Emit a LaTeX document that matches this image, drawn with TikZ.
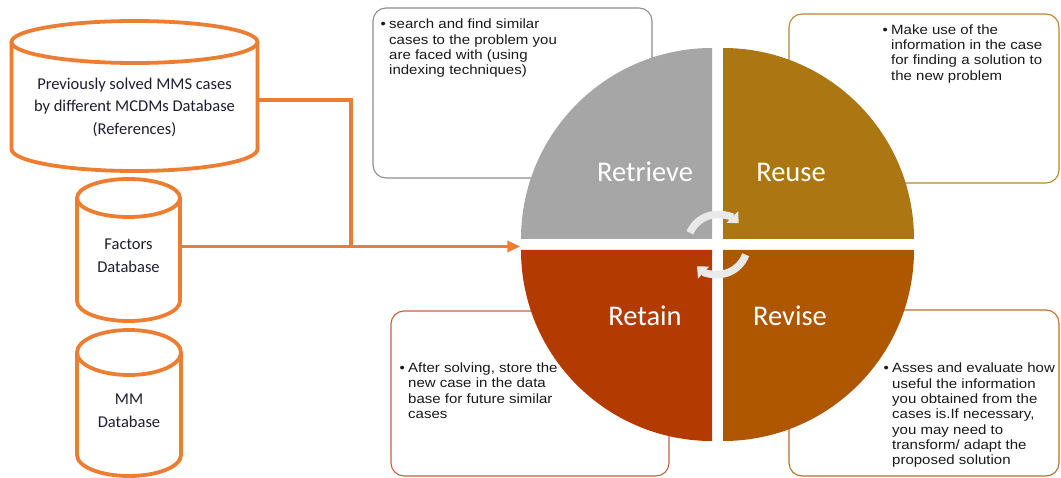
\documentclass[tikz,border=0pt]{standalone}
\usepackage{fontspec}
\setmainfont{Carlito}
\newfontfamily\boxfont[FakeStretch=1.12]{Liberation Sans}
\usetikzlibrary{arrows.meta}

\definecolor{dborange}{HTML}{ED7D31}
\definecolor{qgray}{HTML}{A6A6A6}
\definecolor{qgold}{HTML}{AC7712}
\definecolor{qrust}{HTML}{B33A00}
\definecolor{qamber}{HTML}{AE5600}
\definecolor{cycarrow}{HTML}{E9E9E9}
\definecolor{dbtext}{HTML}{1E1E32}
\definecolor{boxtext}{HTML}{1A1A1A}
\definecolor{bdgray}{HTML}{8E8E8E}
\definecolor{bdgold}{HTML}{B8872E}
\definecolor{bdrust}{HTML}{C8603C}
\definecolor{bdamber}{HTML}{B8732E}

\begin{document}
\begin{tikzpicture}[x=1pt,y=-1pt,
  dbline/.style={draw=dborange, line width=3.8pt, fill=white, line join=round},
  dblabel/.style={font=\fontsize{16.5}{22.5}\selectfont, text=dbtext, align=center, inner sep=0},
  link/.style={draw=dborange, line width=3.3pt},
  notebox/.style={line width=1.1pt, fill=white, rounded corners=13pt},
  notetext/.style={anchor=base west, inner sep=0, text=boxtext,
    font=\boxfont\fontsize{13.4}{15.3}\selectfont},
  qlabel/.style={anchor=base, inner sep=0, text=white, font=\fontsize{28.5}{30}\selectfont},
  cyclearrow/.style={draw=cycarrow, line width=7.5pt, -{Triangle[width=16pt,length=9pt]}}]

\useasboundingbox (0,0) rectangle (1061,478);
\fill[white] (0,0) rectangle (1061,478);

% ---- note boxes (behind the cycle) ----
\draw[notebox, draw=bdgray]  (373,8)   rectangle (652,178);
\draw[notebox, draw=bdgold]  (789,14)  rectangle (1059,183);
\draw[notebox, draw=bdrust]  (391,311) rectangle (669,476);
\draw[notebox, draw=bdamber] (789,310) rectangle (1059,476);

\node[notetext] (tRetrieve) at (380.5,28.8) {\begin{tabular}[t]{@{}p{8.5pt}@{}l@{}}
  • & search and find similar\\
    & cases to the problem you\\
    & are faced with (using\\
    & indexing techniques)\end{tabular}};
\node[notetext] (tReuse) at (882.5,34.3) {\begin{tabular}[t]{@{}p{8.5pt}@{}l@{}}
  • & Make use of the\\
    & information in the case\\
    & for finding a solution to\\
    & the new problem\end{tabular}};
\node[notetext] (tRetain) at (399.5,372.7) {\begin{tabular}[t]{@{}p{8.5pt}@{}l@{}}
  • & After solving, store the\\
    & new case in the data\\
    & base for future similar\\
    & cases\end{tabular}};
\node[notetext] (tRevise) at (883.5,373) {\begin{tabular}[t]{@{}p{8.5pt}@{}l@{}}
  • & Asses and evaluate how\\
    & useful the information\\
    & you obtained from the\\
    & cases is.If necessary,\\
    & you may need to\\
    & transform/ adapt the\\
    & proposed solution\end{tabular}};

% ---- the four-step cycle ----
\node[circle, minimum size=394pt, inner sep=0] (cycle) at (717.5,244.5) {};
\fill[qgray]  (712,239) -- ++(-191,0) arc[start angle=180, end angle=270, radius=191] -- cycle;
\fill[qgold]  (723,239) -- ++(0,-191) arc[start angle=270, end angle=360, radius=191] -- cycle;
\fill[qamber] (723,250) -- ++(191,0)  arc[start angle=0,   end angle=90,  radius=191] -- cycle;
\fill[qrust]  (712,250) -- ++(0,191)  arc[start angle=90,  end angle=180, radius=191] -- cycle;

\node[qlabel] (lRetrieve) at (645,181.5) {Retrieve};
\node[qlabel] (lReuse)    at (791,181.5) {Reuse};
\node[qlabel] (lRetain)   at (645,326)   {Retain};
\node[qlabel] (lRevise)   at (790,326)   {Revise};

\draw[cyclearrow] (cycle.center) ++(-157:30) arc[start angle=-157, end angle=-45, radius=30];
\draw[cyclearrow] (cycle.center) ++(20:30)   arc[start angle=20,   end angle=133, radius=30];

% ---- databases ----
\filldraw[dbline] (11.5,42) -- (11.5,149) arc[start angle=180, end angle=0, x radius=123, y radius=22] -- (257.5,42);
\draw[dbline] (134.5,42) ellipse[x radius=123, y radius=21];
\node[dblabel] (dbRefs) at (134.5,107) {Previously solved MMS cases\\by different MCDMs Database\\(References)};

\filldraw[dbline] (77,198) -- (77,301) arc[start angle=180, end angle=0, x radius=51.5, y radius=20] -- (180,198);
\draw[dbline] (128.5,198) ellipse[x radius=51.5, y radius=19];
\node[dblabel] (dbFactors) at (128.5,256) {Factors\\Database};

\filldraw[dbline] (77,352.5) -- (77,455) arc[start angle=180, end angle=0, x radius=52, y radius=21] -- (181,352.5);
\draw[dbline] (129,352.5) ellipse[x radius=52, y radius=22.5];
\node[dblabel] (dbMM) at (129,411) {MM\\Database};

% ---- connectors into the cycle ----
\coordinate (refsOut) at (259.4,100);
\coordinate (factorsOut) at (181.9,246.5);
\coordinate (joinPt) at (351,246.5);
\draw[link] (refsOut) -| (joinPt);
\draw[link, -{Triangle[width=11pt,length=13pt]}] (factorsOut) -- (factorsOut -| cycle.west);
\end{tikzpicture}
\end{document}
